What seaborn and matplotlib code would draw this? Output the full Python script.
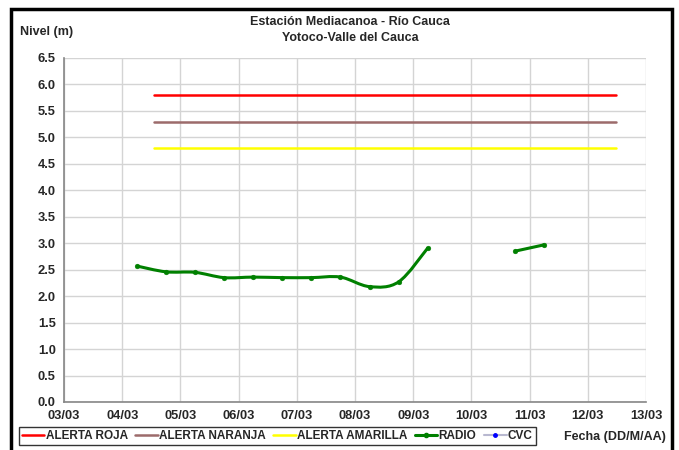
import numpy as np
import pandas as pd
import seaborn as sns
import matplotlib
matplotlib.use("Agg")
import matplotlib.pyplot as plt
import matplotlib.dates as mdates
from matplotlib.path import Path
from matplotlib.patches import PathPatch, Rectangle
from matplotlib.lines import Line2D

# data
radio_times = ["2011-03-04 06:00", "2011-03-04 18:00", "2011-03-05 06:00", "2011-03-05 18:00",
               "2011-03-06 06:00", "2011-03-06 18:00", "2011-03-07 06:00", "2011-03-07 18:00",
               "2011-03-08 06:00", "2011-03-08 18:00", "2011-03-09 06:00", "2011-03-09 18:00",
               "2011-03-10 06:00", "2011-03-10 18:00", "2011-03-11 06:00"]
radio_level = [2.57, 2.46, 2.45, 2.35, 2.36, 2.35, 2.35, 2.36, 2.18, 2.27, 2.91,
               np.nan, np.nan, 2.85, 2.97]
alert_times = ["2011-03-04 13:00", "2011-03-12 11:30"]
alert_names = ["ALERTA ROJA", "ALERTA NARANJA", "ALERTA AMARILLA"]
alert_levels = [5.8, 5.3, 4.8]
alert_colors = ["#ff0000", "#9c6b6b", "#ffff00"]
x_ticks = pd.date_range("2011-03-03", "2011-03-13", freq="D")
y_ticks = np.arange(0, 6.51, 0.5)

sns.set_style("white")
plt.rcParams["font.family"] = ["Liberation Sans", "DejaVu Sans"]
plt.rcParams["font.weight"] = "bold"

fig = plt.figure(figsize=(6.79, 4.5), dpi=100)
ax = fig.add_axes([64 / 679, 1 - 402 / 450, (646 - 64) / 679, (402 - 58) / 450])

# alert lines
alerts = pd.DataFrame({
    "time": pd.to_datetime(alert_times * 3),
    "level": np.repeat(alert_levels, 2),
    "alerta": np.repeat(alert_names, 2),
})
sns.lineplot(data=alerts, x="time", y="level", hue="alerta", palette=alert_colors,
             hue_order=alert_names, lw=1.8, legend=False, ax=ax, zorder=3)

# radio series: smoothed like the spreadsheet, one curve per continuous piece
radio = pd.DataFrame({"time": pd.to_datetime(radio_times), "level": radio_level})
radio["x"] = mdates.date2num(radio["time"])
seg = radio["level"].isna().cumsum()
for _, part in radio.dropna().groupby(seg[radio["level"].notna()]):
    px = part["x"].to_numpy()
    py = part["level"].to_numpy()
    verts = [(px[0], py[0])]
    codes = [Path.MOVETO]
    n = len(px)
    for i in range(n - 1):
        a = max(i - 1, 0)
        b = min(i + 2, n - 1)
        c1 = (px[i] + (px[i + 1] - px[a]) / 6, py[i] + (py[i + 1] - py[a]) / 6)
        c2 = (px[i + 1] - (px[b] - px[i]) / 6, py[i + 1] - (py[b] - py[i]) / 6)
        verts += [c1, c2, (px[i + 1], py[i + 1])]
        codes += [Path.CURVE4] * 3
    ax.add_patch(PathPatch(Path(verts, codes), fill=False, edgecolor="#008000", lw=2.2, zorder=4))
sns.scatterplot(data=radio.dropna(), x="time", y="level", color="#008000", s=12,
                edgecolor="#008000", ax=ax, zorder=5)

ax.set_xlim(x_ticks[0], x_ticks[-1])
ax.set_ylim(0, 6.5)
ax.set_xticks(x_ticks)
ax.xaxis.set_major_formatter(mdates.DateFormatter("%d/%m"))
ax.set_yticks(y_ticks)
ax.set_yticklabels([f"{v:.1f}" for v in y_ticks])
ax.set_xlabel("")
ax.set_ylabel("")
ax.grid(True, color="#d4d4d4", lw=1)
for s in ["top", "right"]:
    ax.spines[s].set_visible(False)
for s in ["left", "bottom"]:
    ax.spines[s].set_color("#868686")
    ax.spines[s].set_linewidth(1.2)
ax.tick_params(direction="out", length=4, color="#868686", labelsize=9.3, pad=2)

fig.text(350 / 679, 1 - 22 / 450, "Estación Mediacanoa - Río Cauca", ha="center", va="center",
         fontsize=9, fontweight="bold")
fig.text(350 / 679, 1 - 38 / 450, "Yotoco-Valle del Cauca", ha="center", va="center",
         fontsize=9, fontweight="bold")
fig.text(20 / 679, 1 - 32 / 450, "Nivel (m)", ha="left", va="center", fontsize=9, fontweight="bold")
fig.text(666 / 679, 1 - 437 / 450, "Fecha (DD/M/AA)", ha="right", va="center", fontsize=9,
         fontweight="bold")

handles = [Line2D([], [], color=c, lw=1.8) for c in alert_colors]
handles.append(Line2D([], [], color="#008000", lw=2.2, marker="o", ms=3))
handles.append(Line2D([], [], color="#b8b8d0", lw=1.5, marker="o", ms=2.5,
                      markerfacecolor="#0000ff", markeredgecolor="#0000ff"))
leg = fig.legend(handles, alert_names + ["RADIO", "CVC"], loc="lower left",
                 bbox_to_anchor=(19 / 679, 1 - 445 / 450), ncol=5, fontsize=8.5,
                 frameon=True, fancybox=False, edgecolor="black", handlelength=1.9,
                 handletextpad=0.1, columnspacing=0.65, borderpad=0.25, borderaxespad=0)
leg.get_frame().set_linewidth(1)

fig.patches.append(Rectangle((11 / 679, -0.05), (672 - 11) / 679, 1.05 - 9 / 450, fill=False,
                             edgecolor="black", lw=2.5, transform=fig.transFigure))

fig.savefig("out.png", dpi=100)
